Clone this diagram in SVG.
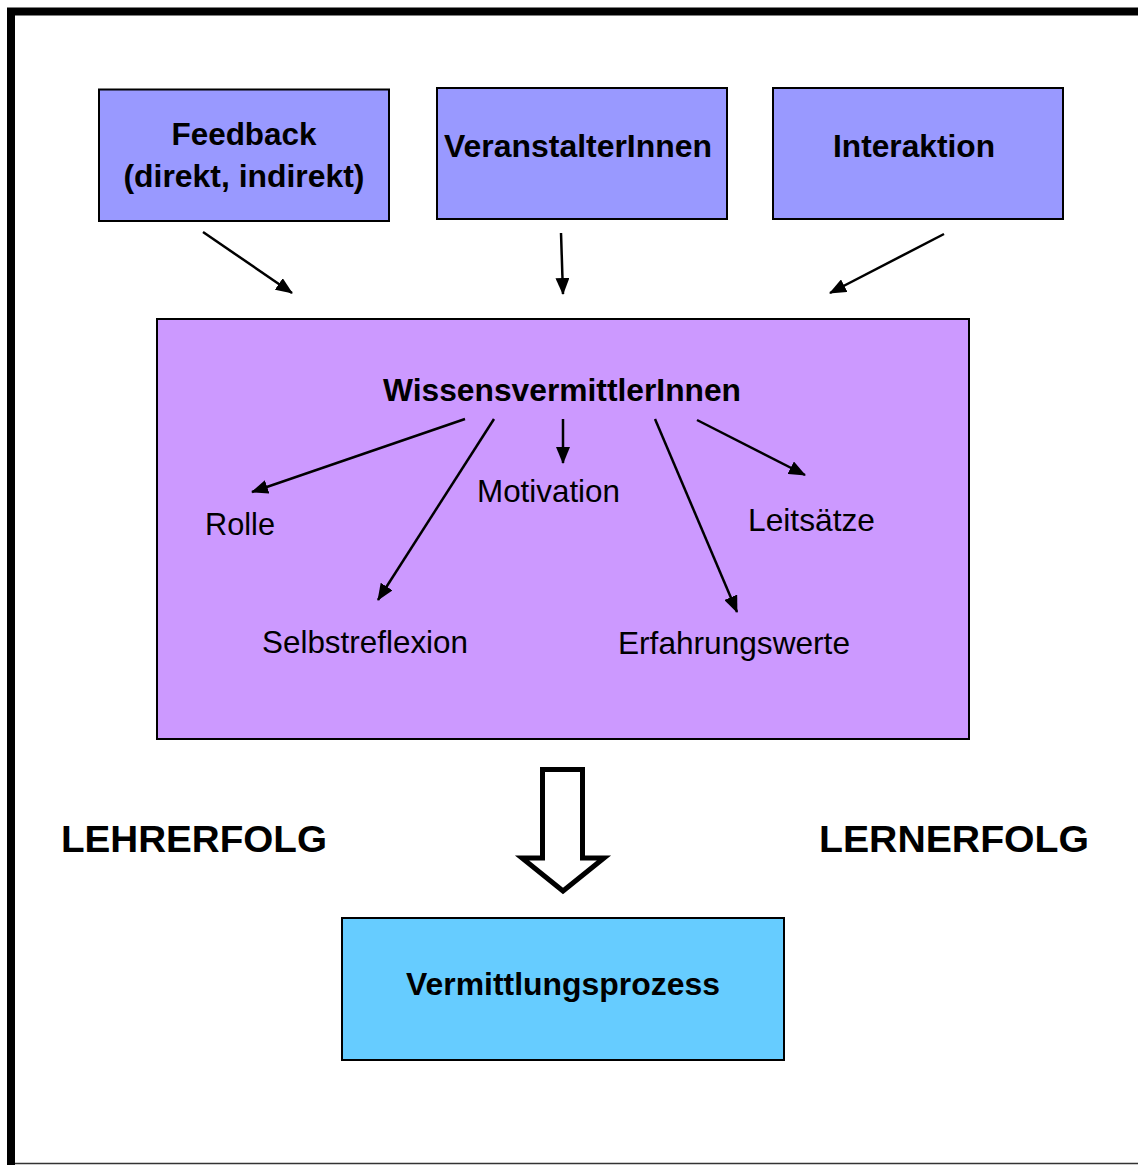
<svg xmlns="http://www.w3.org/2000/svg" width="1138" height="1165" viewBox="0 0 1138 1165">
  <style>
    .box { stroke: #000; stroke-width: 2; }
    .b { font-family: "Liberation Sans", Arial, sans-serif; font-weight: bold; fill: #000; }
    .r { font-family: "Liberation Sans", Arial, sans-serif; fill: #000; }
    .edge { stroke: #000; stroke-width: 2.5; fill: none; marker-end: url(#head); }
  </style>
  <defs>
    <marker id="head" markerUnits="userSpaceOnUse" markerWidth="18" markerHeight="14" refX="16" refY="7" orient="auto">
      <path d="M0,0 L17,7 L0,14 Z" fill="#000"/>
    </marker>
  </defs>

  <rect x="0" y="0" width="1138" height="1165" fill="#fff"/>

  <!-- outer frame -->
  <path d="M11,1165 V11.5 H1138" fill="none" stroke="#000" stroke-width="8"/>
  <line x1="15" y1="1163.5" x2="1138" y2="1163.5" stroke="#333" stroke-width="1.5"/>

  <g id="feedback">
    <rect class="box" x="99" y="89.5" width="290" height="131.5" fill="#9999FF"/>
    <text class="b" x="244" y="145" font-size="30.5" text-anchor="middle" textLength="145" lengthAdjust="spacingAndGlyphs">Feedback</text>
    <text class="b" x="244" y="187" font-size="30.5" text-anchor="middle" textLength="241" lengthAdjust="spacingAndGlyphs">(direkt, indirekt)</text>
  </g>

  <g id="veranstalter">
    <rect class="box" x="437" y="88" width="290" height="131" fill="#9999FF"/>
    <text class="b" x="578" y="157" font-size="30.5" text-anchor="middle" textLength="268" lengthAdjust="spacingAndGlyphs">VeranstalterInnen</text>
  </g>

  <g id="interaktion">
    <rect class="box" x="773" y="88" width="290" height="131" fill="#9999FF"/>
    <text class="b" x="914" y="157" font-size="30.5" text-anchor="middle" textLength="162" lengthAdjust="spacingAndGlyphs">Interaktion</text>
  </g>

  <g id="wissensvermittler">
    <rect class="box" x="157" y="319" width="812" height="420" fill="#CC99FF"/>
    <text class="b" x="562" y="401" font-size="31" text-anchor="middle" textLength="358" lengthAdjust="spacingAndGlyphs">WissensvermittlerInnen</text>
    <text class="r" x="205" y="535" font-size="30.5" textLength="70" lengthAdjust="spacingAndGlyphs">Rolle</text>
    <text class="r" x="477" y="502" font-size="30.5" textLength="143" lengthAdjust="spacingAndGlyphs">Motivation</text>
    <text class="r" x="748" y="531" font-size="30.5" textLength="127" lengthAdjust="spacingAndGlyphs">Leitsätze</text>
    <text class="r" x="262" y="653" font-size="30.5" textLength="206" lengthAdjust="spacingAndGlyphs">Selbstreflexion</text>
    <text class="r" x="618" y="654" font-size="30.5" textLength="232" lengthAdjust="spacingAndGlyphs">Erfahrungswerte</text>
  </g>

  <g id="lehrerfolg">
    <text class="b" x="61" y="852" font-size="37" textLength="266" lengthAdjust="spacingAndGlyphs">LEHRERFOLG</text>
  </g>
  <g id="lernerfolg">
    <text class="b" x="819" y="852" font-size="37" textLength="270" lengthAdjust="spacingAndGlyphs">LERNERFOLG</text>
  </g>

  <g id="vermittlungsprozess">
    <rect class="box" x="342" y="918" width="442" height="142" fill="#66CCFF"/>
    <text class="b" x="563" y="995" font-size="31" text-anchor="middle" textLength="314" lengthAdjust="spacingAndGlyphs">Vermittlungsprozess</text>
  </g>

  <g id="connectors">
    <line class="edge" x1="203" y1="232" x2="292" y2="293"/>
    <line class="edge" x1="561" y1="233" x2="563" y2="294"/>
    <line class="edge" x1="944" y1="234" x2="830" y2="293"/>
    <line class="edge" x1="465" y1="419" x2="252" y2="492"/>
    <line class="edge" x1="494" y1="419" x2="378" y2="600"/>
    <line class="edge" x1="563" y1="419" x2="563" y2="463"/>
    <line class="edge" x1="655" y1="419" x2="737" y2="612"/>
    <line class="edge" x1="697" y1="420" x2="805" y2="475"/>
    <!-- hollow block arrow towards the process box -->
    <path d="M542.5,769.5 H582.5 V858 H604 L563,891 L522,858 H542.5 Z" fill="#fff" stroke="#000" stroke-width="5" stroke-linejoin="miter"/>
  </g>
</svg>
